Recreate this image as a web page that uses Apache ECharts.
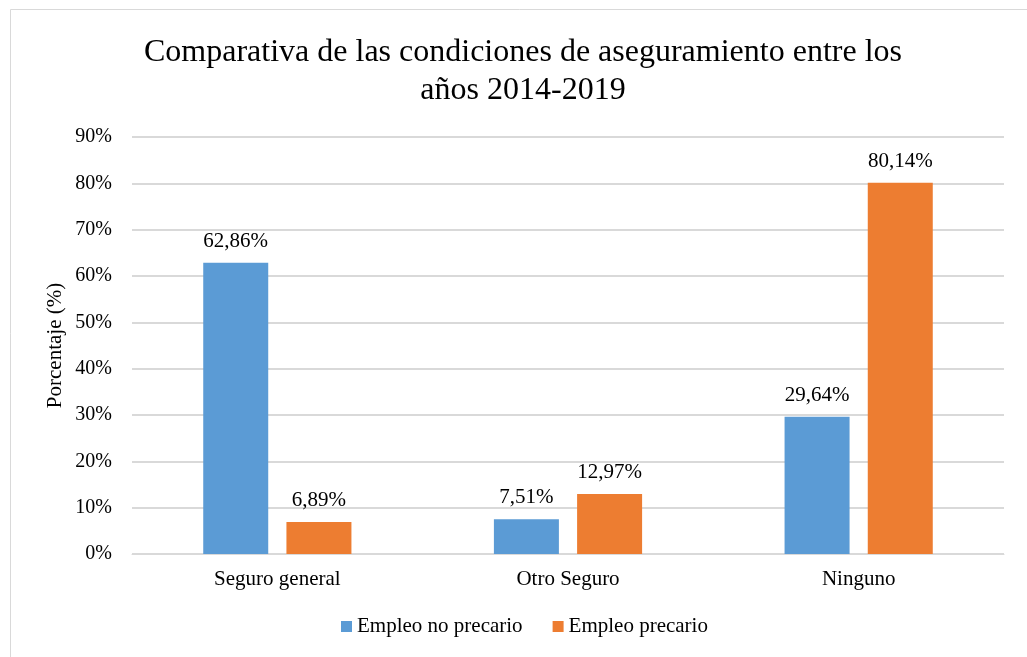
<!DOCTYPE html>
<html><head><meta charset="utf-8">
<script src="https://cdn.jsdelivr.net/npm/echarts@6/dist/echarts.min.js"></script>
<style>html,body{margin:0;padding:0;background:#fff}#c{width:1027px;height:657px}</style>
</head><body><div id="c"></div>
<script>
const categories = ['Seguro general', 'Otro Seguro', 'Ninguno'];
const seriesNames = ['Empleo no precario', 'Empleo precario'];
const noPrecario = [62.86, 7.51, 29.64];
const precario = [6.89, 12.97, 80.14];
const yTicks = [0, 10, 20, 30, 40, 50, 60, 70, 80, 90];

const font = 'Liberation Serif, Times New Roman, serif';
const chart = echarts.init(document.getElementById('c'));
const fmt = v => v.toFixed(2).replace('.', ',') + '%';
chart.setOption({
  animation: false,
  textStyle: { fontFamily: font },
  title: {
    text: 'Comparativa de las condiciones de aseguramiento entre los\naños 2014-2019',
    left: 518, top: 29, textAlign: 'center',
    textStyle: { fontFamily: font, fontSize: 32, fontWeight: 'normal', color: '#000', lineHeight: 38 }
  },
  graphic: [{ type: 'rect', shape: { x: 10.5, y: 9.5, width: 1030, height: 660 }, style: { fill: 'none', stroke: '#d9d9d9', lineWidth: 1 }, silent: true }],
  legend: {
    data: seriesNames, bottom: 15, left: 336, itemWidth: 11, itemHeight: 11, itemGap: 30,
    icon: 'rect',
    textStyle: { fontFamily: font, fontSize: 21, color: '#000' }
  },
  grid: { left: 132, right: 23, top: 137, bottom: 103 },
  xAxis: {
    type: 'category', data: categories,
    axisLine: { lineStyle: { color: '#d9d9d9' } }, axisTick: { show: false },
    axisLabel: { fontFamily: font, fontSize: 21, color: '#000', margin: 15 }
  },
  yAxis: {
    type: 'value', min: yTicks[0], max: yTicks[yTicks.length - 1], interval: 10,
    name: 'Porcentaje (%)', nameLocation: 'middle', nameGap: 66, nameRotate: 90, nameMoveOverlap: false,
    nameTextStyle: { fontFamily: font, fontSize: 21, color: '#000' },
    axisLabel: { formatter: '{value}%', fontFamily: font, fontSize: 20, color: '#000', margin: 20 },
    splitLine: { lineStyle: { color: '#d9d9d9', width: 2 } },
    axisLine: { show: false }, axisTick: { show: false }
  },
  series: [
    { name: seriesNames[0], type: 'bar', data: noPrecario, barWidth: 65, barGap: '28%',
      itemStyle: { color: '#5B9BD5' },
      label: { show: true, position: 'top', distance: 11, formatter: p => fmt(p.value), fontFamily: font, fontSize: 21, color: '#000' } },
    { name: seriesNames[1], type: 'bar', data: precario, barWidth: 65,
      itemStyle: { color: '#ED7D31' },
      label: { show: true, position: 'top', distance: 11, formatter: p => fmt(p.value), fontFamily: font, fontSize: 21, color: '#000' } }
  ]
});
</script></body></html>
